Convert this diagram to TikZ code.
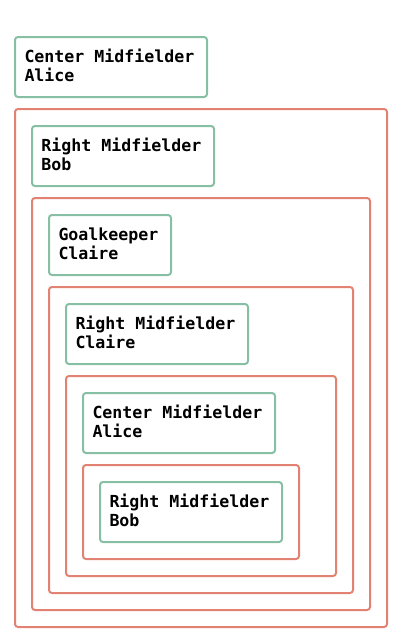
\documentclass[tikz,border=0pt]{standalone}
\usepackage{fontspec}
\setmonofont{DejaVu Sans Mono}
\definecolor{gcol}{RGB}{134,191,164}
\definecolor{rcol}{RGB}{226,130,114}
\newcommand{\lowstrut}{\rule[-3pt]{0pt}{0pt}}
\newcommand{\msp}{\hspace*{0.602em}}
\begin{document}
\begin{tikzpicture}[x=1pt,y=-1pt,
  gbox/.style={draw=gcol, line width=2pt, rounded corners=3pt, anchor=north west,
    minimum height=60pt, inner xsep=9.5pt, inner ysep=0pt, align=left,
    font=\ttfamily\bfseries\fontsize{16.6}{19.2}\selectfont},
  rbox/.style={draw=rcol, line width=2pt, rounded corners=3pt, anchor=north west, inner sep=0pt}]
\useasboundingbox (0,0) rectangle (400,640);
\node[gbox, text width=173pt] (g1) at (14,36) {Center\msp Midfielder\\Alice\lowstrut};
\node[rbox, minimum width=372pt, minimum height=518pt] (r1) at (14,108) {};
\node[gbox, text width=163pt] (g2) at (31,125) {Right\msp Midfielder\\Bob\lowstrut};
\node[rbox, minimum width=338pt, minimum height=412pt] (r2) at (31,197) {};
\node[gbox, text width=103pt] (g3) at (48,214) {Goalkeeper\\Claire\lowstrut};
\node[rbox, minimum width=304pt, minimum height=306pt] (r3) at (48,286) {};
\node[gbox, text width=163pt] (g4) at (65,303) {Right\msp Midfielder\\Claire\lowstrut};
\node[rbox, minimum width=270pt, minimum height=200pt] (r4) at (65,375) {};
\node[gbox, text width=173pt] (g5) at (82,392) {Center\msp Midfielder\\Alice\lowstrut};
\node[rbox, minimum width=216pt, minimum height=94pt] (r5) at (82,464) {};
\node[gbox, text width=163pt] (g6) at (99,481) {Right\msp Midfielder\\Bob\lowstrut};
\end{tikzpicture}
\end{document}
